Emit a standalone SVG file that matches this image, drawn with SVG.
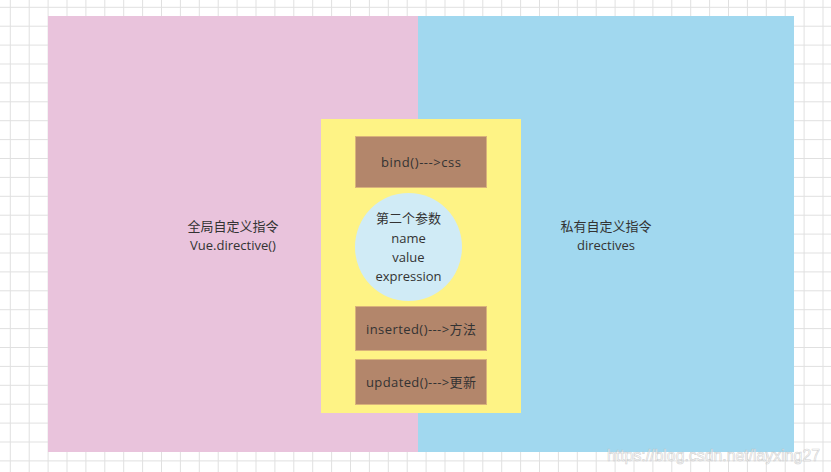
<svg xmlns="http://www.w3.org/2000/svg" width="831" height="472" viewBox="0 0 831 472">
<style>
.t{font-family:"Open Sans","Noto Sans CJK SC",sans-serif;font-size:13px;fill:#333;text-anchor:middle}
.box{fill:#b3866b;stroke:#d9b27a;stroke-width:1}
</style>
<defs>
<pattern id="grid" x="9.8" y="6.8" width="18.9" height="18.9" patternUnits="userSpaceOnUse">
<path d="M0.5 0V18.9M0 0.5H18.9" stroke="#e0e0e0" stroke-width="1" fill="none"/>
</pattern>
</defs>
<rect width="831" height="472" fill="#fff"/>
<rect width="831" height="472" fill="url(#grid)"/>
<g id="global">
<rect x="48" y="16" width="370" height="436" fill="#e9c3dc"/>
<text class="t" x="233" y="231">全局自定义指令</text>
<text class="t" x="233" y="250">Vue.directive()</text>
</g>
<g id="private">
<rect x="418" y="16" width="376" height="436" fill="#a1d8ef"/>
<text class="t" x="606" y="231">私有自定义指令</text>
<text class="t" x="606" y="250">directives</text>
</g>
<g id="hooks">
<rect x="321" y="119" width="200" height="294" fill="#fef385"/>
</g>
<g id="bind">
<rect class="box" x="355.5" y="136.5" width="131" height="51"/>
<text class="t" x="421" y="167" textLength="80">bind()---&gt;css</text>
</g>
<g id="param">
<ellipse cx="408.5" cy="247" rx="53.5" ry="54" fill="#d0ebf6"/>
<text class="t" x="408.5" y="223">第二个参数</text>
<text class="t" x="408.5" y="243">name</text>
<text class="t" x="408.5" y="262">value</text>
<text class="t" x="408.5" y="281">expression</text>
</g>
<g id="inserted">
<rect class="box" x="355.5" y="306.5" width="131" height="44"/>
<text class="t" x="421" y="334" textLength="110">inserted()---&gt;方法</text>
</g>
<g id="updated">
<rect class="box" x="355.5" y="359.5" width="131" height="45"/>
<text class="t" x="421" y="387" textLength="110">updated()---&gt;更新</text>
</g>
<g id="connectors"/>
<text x="607" y="461" textLength="213" lengthAdjust="spacingAndGlyphs" font-family="Liberation Sans, sans-serif" font-size="16" fill="#fff" fill-opacity="0.6" stroke="#bbb" stroke-width="0.6" stroke-opacity="0.7">https://blog.csdn.net/layxing27</text>
</svg>
